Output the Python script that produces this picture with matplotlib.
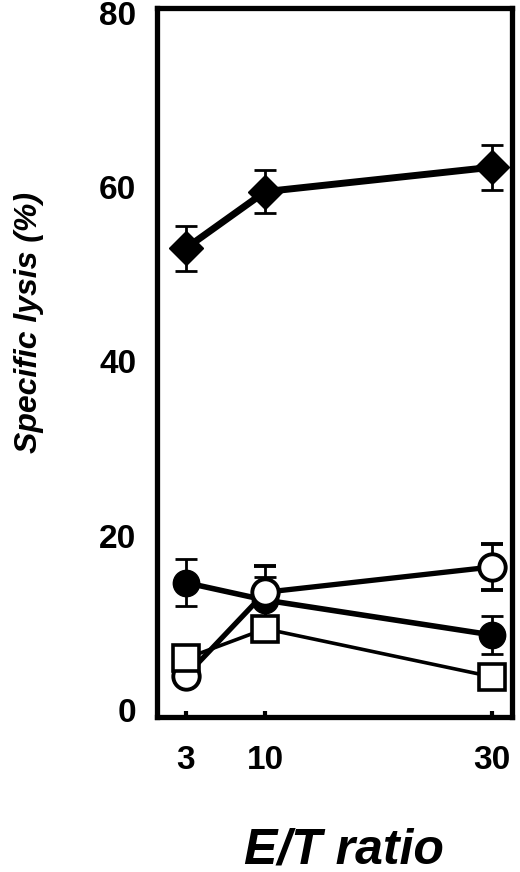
import matplotlib
matplotlib.use("Agg")
import matplotlib.pyplot as plt

plt.rcParams["font.family"] = ["Liberation Sans", "DejaVu Sans"]

# E/T ratios
et_ratio = [3, 10, 30]

# specific lysis (%)
diamond = [53.0, 59.5, 62.3]
diamond_err = [2.6, 2.5, 2.6]
filled_circle = [14.6, 12.6, 8.6]
filled_circle_err = [2.7, 2.6, 2.2]
open_circle = [3.9, 13.5, 16.4]
open_circle_err = [0.0, 3.0, 2.6]
open_square = [5.9, 9.3, 3.8]

yticks = [0, 20, 40, 60, 80]

fig = plt.figure(figsize=(5.2, 8.72), dpi=100)
ax = fig.add_axes([0.302, 0.178, 0.683, 0.813])

eb = dict(ecolor="black", elinewidth=2, capsize=8, capthick=2)

ax.errorbar(et_ratio, filled_circle, yerr=filled_circle_err, color="black",
            lw=4, marker="o", ms=19, mfc="black", mec="black", **eb, zorder=2)
ax.errorbar(et_ratio, open_circle, yerr=open_circle_err, color="black",
            lw=3.8, marker="o", ms=19, mfc="white", mec="black", mew=2.8, **eb, zorder=3)
ax.plot(et_ratio, open_square, color="black", lw=2.6, marker="s", ms=19,
        mfc="white", mec="black", mew=2.6, zorder=4)
ax.errorbar(et_ratio, diamond, yerr=diamond_err, color="black",
            lw=5, marker="D", ms=17, mfc="black", mec="black", **eb, zorder=5)

ax.set_xlim(0.45, 31.8)
ax.set_ylim(-0.8, 80.6)
ax.set_xticks(et_ratio)
ax.set_yticks(yticks)

for sp in ax.spines.values():
    sp.set_linewidth(3.8)

ax.tick_params(axis="x", direction="in", length=4, width=3, pad=20,
               labelsize=24)
ax.tick_params(axis="y", length=0, pad=15, labelsize=24)
for lab in ax.get_xticklabels() + ax.get_yticklabels():
    lab.set_fontweight("bold")

fig.text(344 / 520, 0.0103, "E/T ratio", ha="center", va="baseline",
         fontsize=36, fontweight="bold", fontstyle="italic")
fig.text(29 / 520, 0.63, "Specific lysis (%)", rotation=90, ha="center",
         va="center", fontsize=23, fontweight="bold", fontstyle="italic",
         family=["Liberation Sans Narrow", "Liberation Sans", "DejaVu Sans"])

fig.savefig("out.png", dpi=100)
